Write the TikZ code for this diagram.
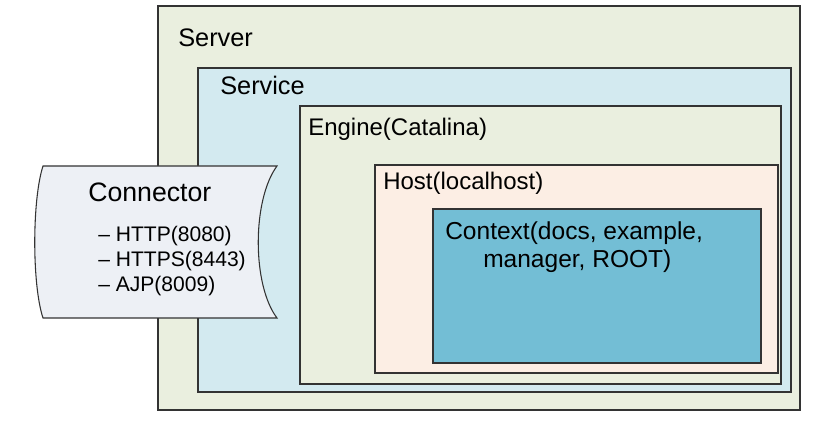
\documentclass[tikz,border=0pt]{standalone}
\usepackage{fontspec}
\setmainfont{Liberation Sans}
\usepackage{xcolor}
\usepackage{tikz}
\usetikzlibrary{positioning}

\definecolor{servergreen}{HTML}{EAEFDF}
\definecolor{serviceblue}{HTML}{D3EAF0}
\definecolor{hostpeach}{HTML}{FCEEE4}
\definecolor{contextblue}{HTML}{73BED5}
\definecolor{connectorgray}{HTML}{EDF0F5}

\begin{document}
\begin{tikzpicture}[
  x=0.75pt, y=-0.75pt,
  frame/.style={draw=black!80, line width=0.8pt},
  title/.style={anchor=base west, inner sep=0pt, font=\fontsize{19}{22}\selectfont},
  sub/.style={anchor=base west, inner sep=0pt, font=\fontsize{18}{21}\selectfont},
  item/.style={anchor=base west, inner sep=0pt, font=\fontsize{15.8}{19}\selectfont}
]
\useasboundingbox (0,0) rectangle (840,424);

% Nested frames
\draw[frame, fill=servergreen] (158,6) rectangle (800,410);
\draw[frame, fill=serviceblue] (198,68) rectangle (791,392);
\draw[frame, fill=servergreen] (300,106) rectangle (781,384);
\draw[frame, fill=hostpeach] (375,165) rectangle (778,373);
\draw[frame, fill=contextblue] (433,209) rectangle (761,363);

% Frame titles
\node[title] (server) at (178,47) {Server};
\node[title] (service) at (220,95) {Service};
\node[sub] (engine) at (308,136) {Engine(Catalina)};
\node[sub] (host) at (383,190) {Host(localhost)};
\node[sub, font=\fontsize{18.4}{21}\selectfont] (context1) at (445,240) {Context(docs, example,};
\node[sub, font=\fontsize{18.4}{21}\selectfont] (context2) at (483,268) {manager, ROOT)};

% Connector
\draw[frame, fill=connectorgray] (43,166) -- (277,166)
  .. controls (252,200) and (252,285) .. (277,318) -- (43,318)
  .. controls (32,285) and (32,200) .. (43,166) -- cycle;
\node[title, font=\fontsize{20}{24}\selectfont] (conn) at (88,202) {Connector};
\node[item] (http) at (98,242) {-- HTTP(8080)};
\node[item] (https) at (98,267) {-- HTTPS(8443)};
\node[item] (ajp) at (98,292) {-- AJP(8009)};

\end{tikzpicture}
\end{document}
